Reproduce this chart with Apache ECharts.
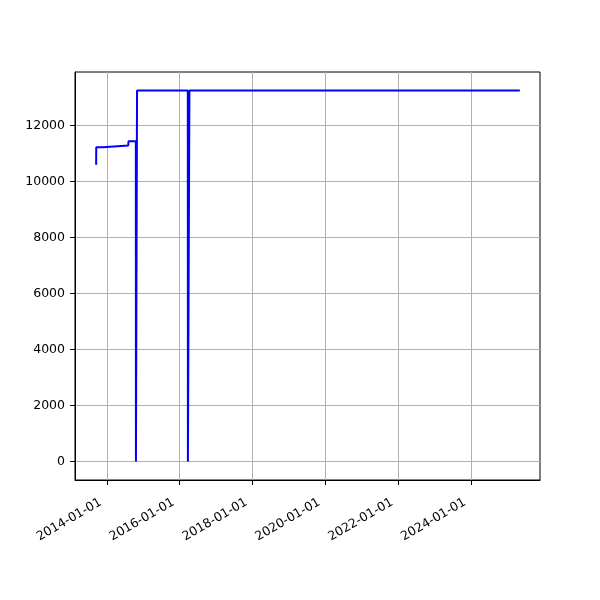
<!DOCTYPE html>
<html>
<head>
<meta charset="utf-8">
<script src="https://cdn.jsdelivr.net/npm/echarts@6/dist/echarts.min.js"></script>
<style>html,body{margin:0;padding:0;background:#fff}#c{width:600px;height:600px}</style>
</head>
<body>
<div id="c"></div>
<script>
const dates = ['2013-09-16','2013-09-17','2013-11-26','2013-11-28','2014-08-04','2014-08-06','2014-10-19','2014-10-20','2014-10-31','2016-03-23','2016-03-24','2016-04-07','2016-04-08','2025-05-04'];
const values = [10600, 11225, 11225, 11286, 11286, 11440, 11440, 0, 13250, 13250, 0, 0, 13250, 13250];
const xTickDates = ['2014-01-01','2016-01-01','2018-01-01','2020-01-01','2022-01-01','2024-01-01'];
const yTicks = [0, 2000, 4000, 6000, 8000, 10000, 12000];

const ts = s => Date.parse(s + 'T00:00:00Z');
const data = dates.map((d, i) => [ts(d), values[i]]);
const xTicks = xTickDates.map(ts);
const pad2 = n => (n < 10 ? '0' : '') + n;
const fmt = v => { const d = new Date(v); return d.getUTCFullYear() + '-' + pad2(d.getUTCMonth() + 1) + '-' + pad2(d.getUTCDate()); };

const chart = echarts.init(document.getElementById('c'));
chart.setOption({
  animation: false,
  grid: { left: 75, right: 60, top: 72, bottom: 120, show: true, borderColor: '#000', borderWidth: 1, containLabel: false },
  xAxis: {
    type: 'value',
    min: ts('2013-02-16'),
    max: ts('2025-11-22'),
    axisLine: { show: true, onZero: false, lineStyle: { color: '#000', width: 1 } },
    axisTick: { show: true, customValues: xTicks, length: 5, inside: false, lineStyle: { color: '#000' } },
    axisLabel: { customValues: xTicks, formatter: fmt, rotate: 30, color: '#000', fontSize: 12.5, fontFamily: 'DejaVu Sans', margin: 18, padding: [0, 7, 0, 0] },
    splitLine: { show: true, lineStyle: { color: '#b0b0b0', width: 1 } }
  },
  yAxis: {
    type: 'value',
    min: -662,
    max: 13912,
    axisLine: { show: true, onZero: false, lineStyle: { color: '#000', width: 1 } },
    axisTick: { show: true, customValues: yTicks, length: 5, lineStyle: { color: '#000' } },
    axisLabel: { customValues: yTicks, formatter: v => String(v), color: '#000', fontSize: 12.5, fontFamily: 'DejaVu Sans', margin: 10 },
    splitLine: { show: true, lineStyle: { color: '#b0b0b0', width: 1 } }
  },
  series: [{
    type: 'line',
    data: data,
    showSymbol: false,
    symbol: 'none',
    lineStyle: { color: '#0000ff', width: 2 },
    clip: true
  }]
});
</script>
</body>
</html>
